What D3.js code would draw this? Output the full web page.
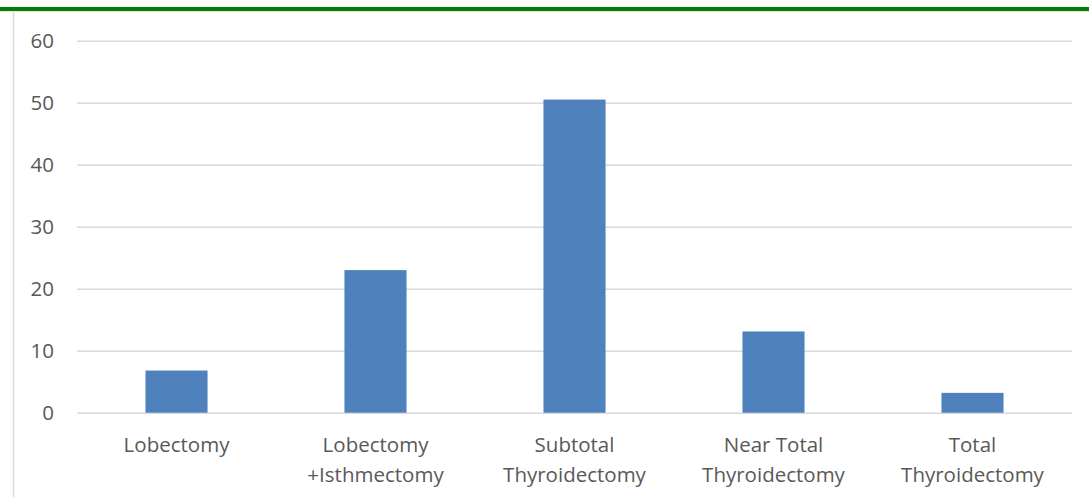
<!DOCTYPE html>
<html>
<head>
<meta charset="utf-8">
<script src="https://cdn.jsdelivr.net/npm/d3@7"></script>
<style>
  html, body { margin: 0; padding: 0; background: #fff; }
  svg { display: block; }
</style>
</head>
<body>
<svg id="chart" width="1089" height="497"></svg>
<script>
const categories = ["Lobectomy", "Lobectomy\n+Isthmectomy", "Subtotal\nThyroidectomy", "Near Total\nThyroidectomy", "Total\nThyroidectomy"];
const values = [6.8, 23, 50.5, 13.1, 3.2];
const yTicks = [0, 10, 20, 30, 40, 50, 60];

(function () {
const svg = d3.select("#chart");
const W = 1089, H = 497;
const plotLeft = 77, plotRight = 1072, plotTop = 40.7, plotBottom = 412.7;
const font = "'Open Sans', sans-serif";
const textColor = "#595959";

// frame decorations
svg.append("rect").attr("x", 0).attr("y", 0).attr("width", W).attr("height", H).attr("fill", "#fff");
svg.append("line").attr("x1", 13.5).attr("x2", 13.5).attr("y1", 11).attr("y2", H)
  .attr("stroke", "#d9d9d9").attr("stroke-width", 1.5);
svg.append("line").attr("x1", 0).attr("x2", W).attr("y1", 11.5).attr("y2", 11.5)
  .attr("stroke", "#e6e6e6").attr("stroke-width", 1);
svg.append("rect").attr("x", 0).attr("y", 7).attr("width", W).attr("height", 4).attr("fill", "#008000");

const x = d3.scaleBand().domain(categories).range([plotLeft, plotRight]).paddingInner(0.688).paddingOuter(0.344);
const y = d3.scaleLinear().domain([0, 60]).range([plotBottom, plotTop]);

// gridlines / y axis
const yAxis = svg.append("g").attr("transform", `translate(${plotLeft},0)`)
  .call(d3.axisLeft(y).tickValues(yTicks).tickSize(-(plotRight - plotLeft)).tickPadding(23).tickFormat(d3.format("d")));
yAxis.select(".domain").remove();
yAxis.selectAll(".tick line").attr("stroke", "#d9d9d9").attr("stroke-width", 1.5);
yAxis.selectAll(".tick text").attr("fill", textColor).style("font-family", font).style("font-size", "20.5px");

// bars
svg.append("g").selectAll("rect").data(values).join("rect")
  .attr("x", (d, i) => x(categories[i]))
  .attr("width", x.bandwidth())
  .attr("y", d => y(d))
  .attr("height", d => y(0) - y(d))
  .attr("fill", "#4f81bd");

// x axis labels
const xAxis = svg.append("g").attr("transform", `translate(0,${plotBottom})`)
  .call(d3.axisBottom(x).tickSize(0).tickFormat(""));
xAxis.select(".domain").remove();
xAxis.selectAll(".tick").each(function(d) {
  const g = d3.select(this);
  const lines = d.split("\n");
  const t = g.append("text").attr("fill", textColor).attr("text-anchor", "middle")
    .style("font-family", font).style("font-size", "20.5px");
  lines.forEach((ln, i) => {
    t.append("tspan").attr("x", 0).attr("y", 39.5 + i * 30.3).text(ln);
  });
});
})();
</script>
</body>
</html>
